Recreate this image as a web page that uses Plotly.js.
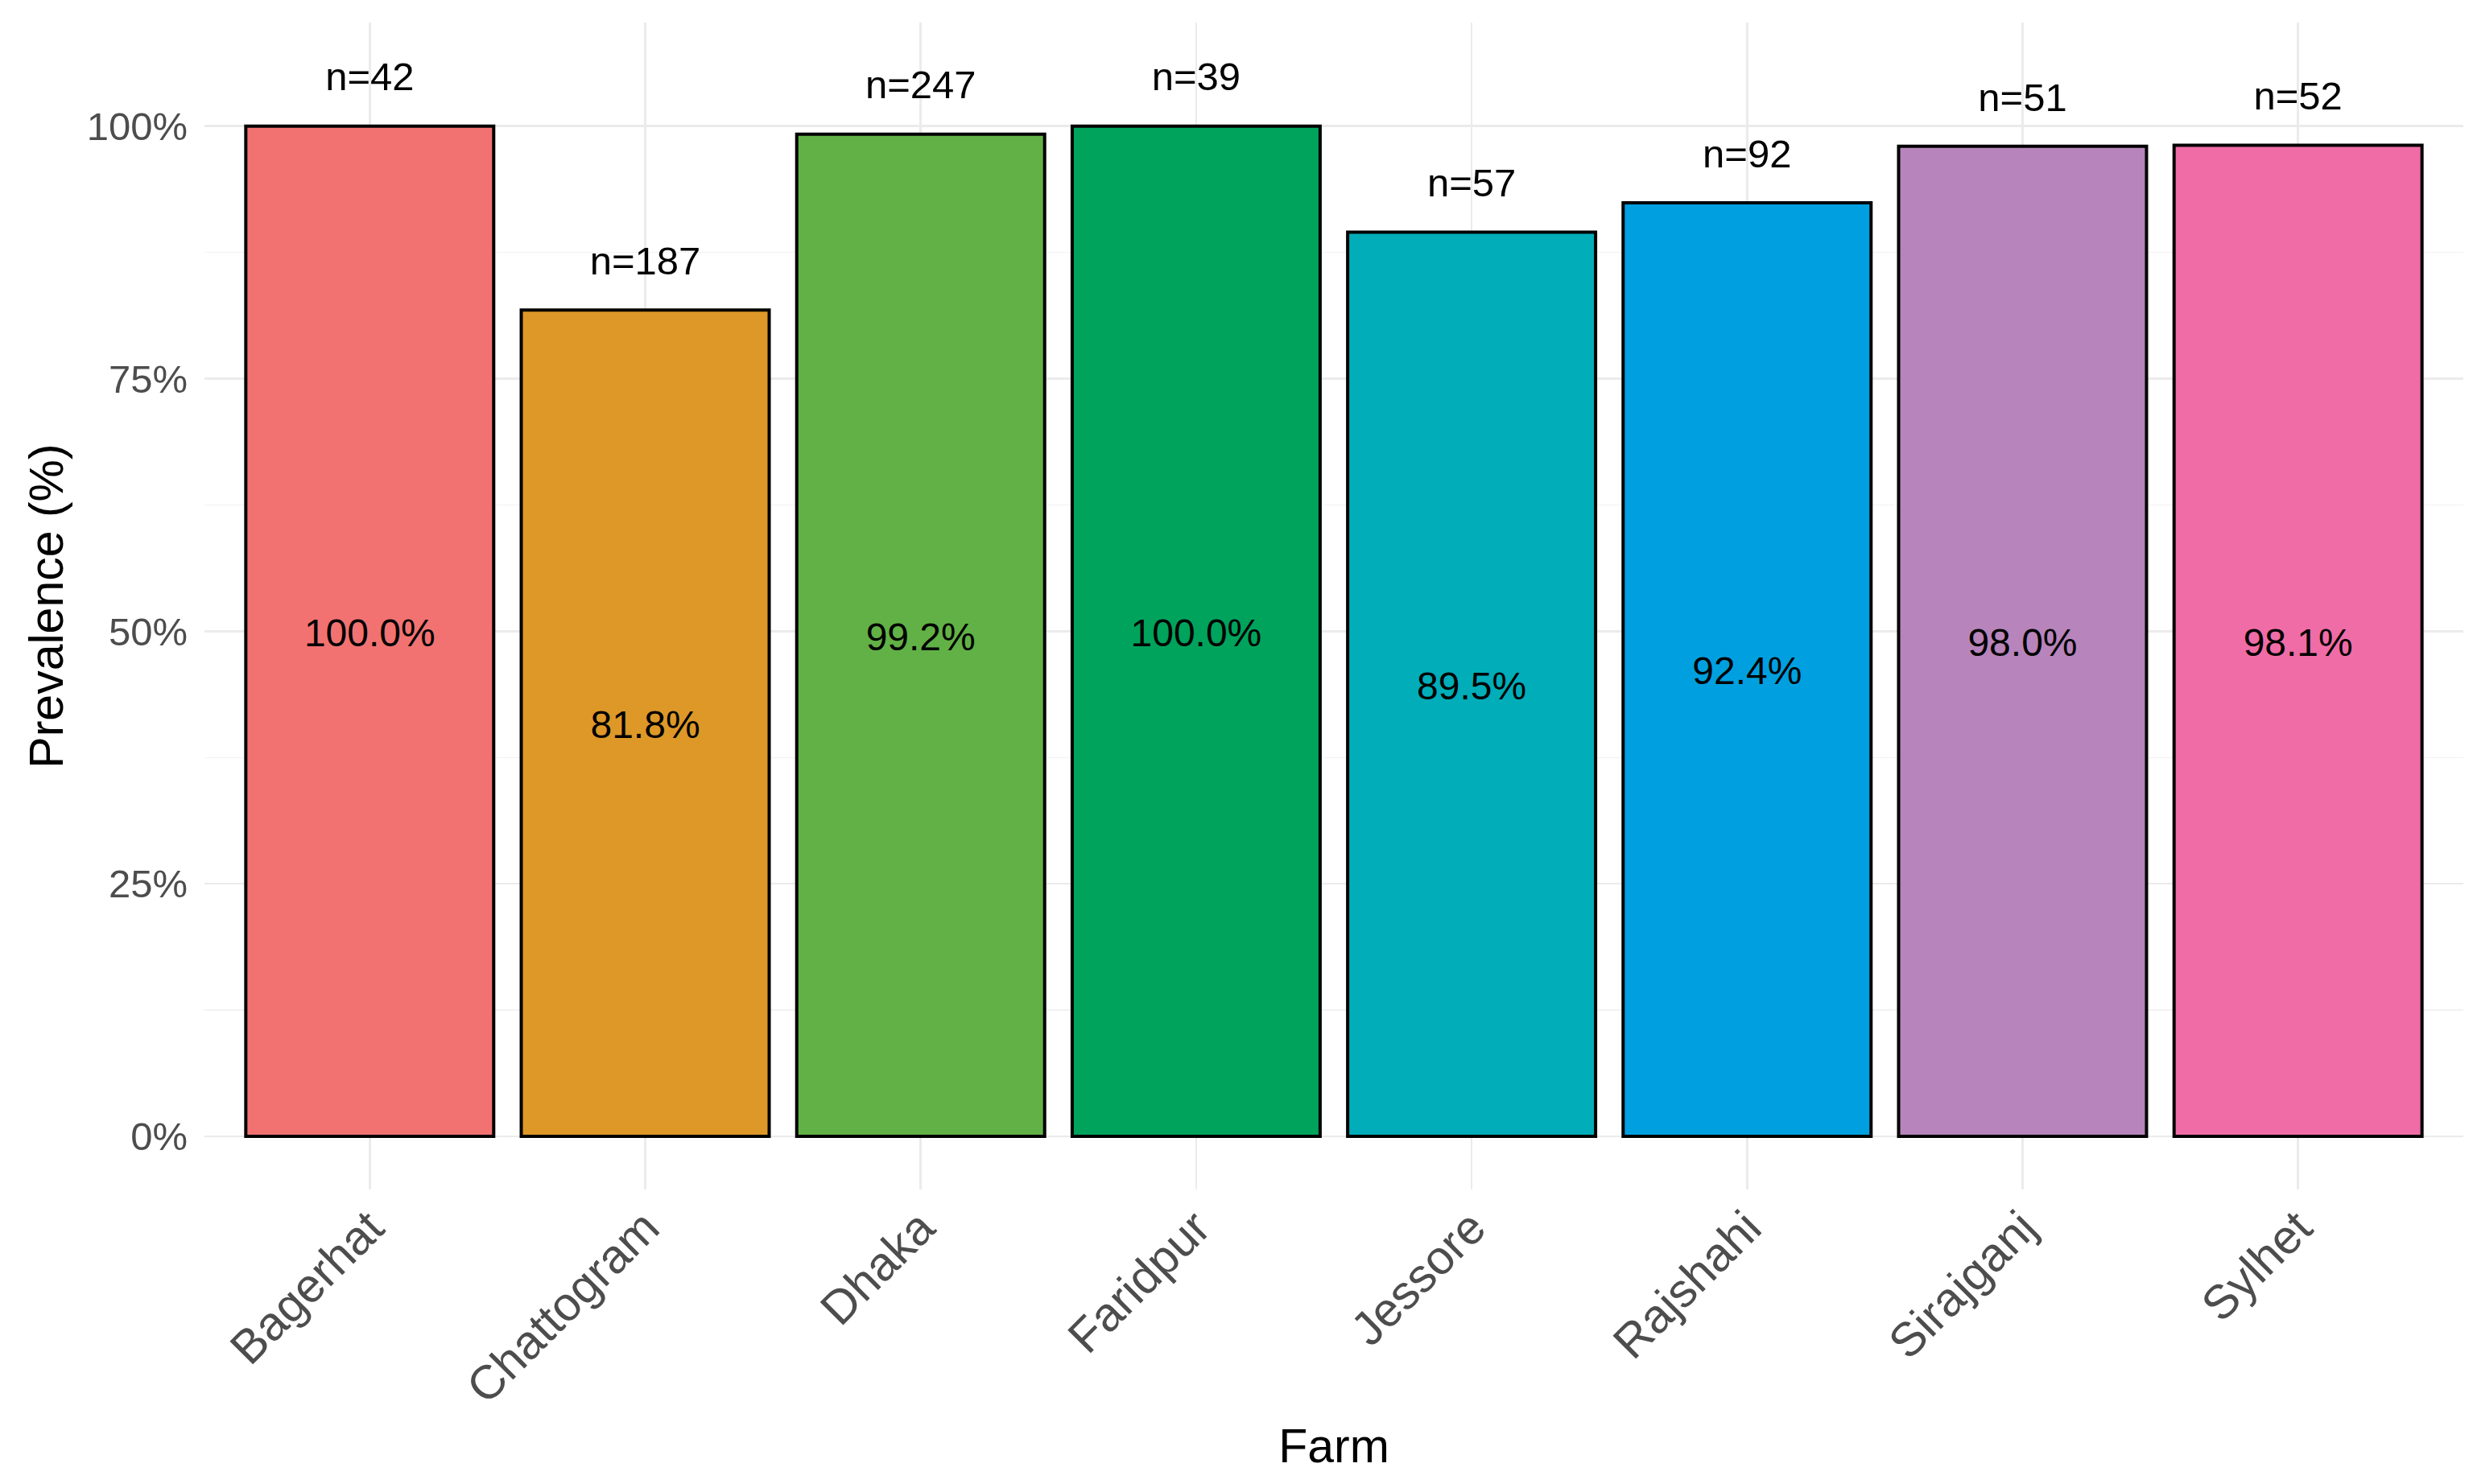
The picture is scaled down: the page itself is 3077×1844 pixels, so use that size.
<!DOCTYPE html>
<html>
<head>
<meta charset="utf-8">
<script src="https://cdn.plot.ly/plotly-3.0.1.min.js"></script>
<style>html,body{margin:0;padding:0;background:#fff;}#chart{width:3077px;height:1844px;}</style>
</head>
<body>
<div id="chart"></div>
<script>
const farms = ["Bagerhat","Chattogram","Dhaka","Faridpur","Jessore","Rajshahi","Sirajganj","Sylhet"];
const prevalence = [100.0, 81.8, 99.2, 100.0, 89.5, 92.4, 98.0, 98.1];
const sampleSizes = [42, 187, 247, 39, 57, 92, 51, 52];
const barColors = ["#F27272","#DD9828","#62B146","#00A35C","#00ADB8","#00A0E0","#B784BB","#F06CA6"];
const yTickVals = [0, 25, 50, 75, 100];
const yTickText = ["0%","25%","50%","75%","100%"];

const FONT = "Liberation Sans, Arial, Helvetica, sans-serif";

const bars = {
  type: "bar",
  x: farms,
  y: prevalence,
  width: 0.9,
  marker: {color: barColors, line: {color: "#000000", width: 4}},
  hoverinfo: "x+y",
  showlegend: false
};

const pctLabels = {
  type: "scatter",
  mode: "text",
  x: farms,
  y: prevalence.map(v => v / 2 - 0.5),
  text: prevalence.map(v => v.toFixed(1) + "%"),
  textposition: "middle center",
  textfont: {family: FONT, size: 48, color: "#000000"},
  hoverinfo: "skip",
  showlegend: false
};

const nLabels = {
  type: "scatter",
  mode: "text",
  x: farms,
  y: prevalence.map(v => v + 4.5),
  text: sampleSizes.map(n => "n=" + n),
  textposition: "middle center",
  textfont: {family: FONT, size: 49, color: "#000000"},
  hoverinfo: "skip",
  showlegend: false
};

const layout = {
  width: 3077,
  height: 1844,
  paper_bgcolor: "#ffffff",
  plot_bgcolor: "#ffffff",
  margin: {l: 254, r: 17, t: 28, b: 366, pad: 0},
  font: {family: FONT, color: "#000000"},
  showlegend: false,
  xaxis: {
    type: "category",
    range: [-0.6, 7.6],
    tickangle: -45,
    tickfont: {family: FONT, size: 59, color: "#4D4D4D"},
    showgrid: true,
    gridcolor: "#EBEBEB",
    gridwidth: 2.5,
    zeroline: false,
    showline: false,
    ticks: "",
    ticklabelstandoff: 0,
    automargin: false,
    title: {text: "Farm", font: {family: FONT, size: 59, color: "#000000"}, standoff: 20}
  },
  yaxis: {
    range: [-5.25, 110.25],
    tickvals: yTickVals,
    ticktext: yTickText,
    tickfont: {family: FONT, size: 49, color: "#4D4D4D"},
    showgrid: true,
    gridcolor: "#EBEBEB",
    gridwidth: 2.5,
    minor: {tickvals: [12.5, 37.5, 62.5, 87.5], showgrid: true, gridcolor: "#F2F2F2", gridwidth: 1.5, ticks: ""},
    zeroline: false,
    showline: false,
    ticks: "",
    ticklabelstandoff: 20,
    automargin: false,
    title: {text: "Prevalence (%)", font: {family: FONT, size: 59, color: "#000000"}, standoff: 10}
  }
};

Plotly.newPlot("chart", [bars, pctLabels, nLabels], layout, {displayModeBar: false, staticPlot: true});
</script>
</body>
</html>
